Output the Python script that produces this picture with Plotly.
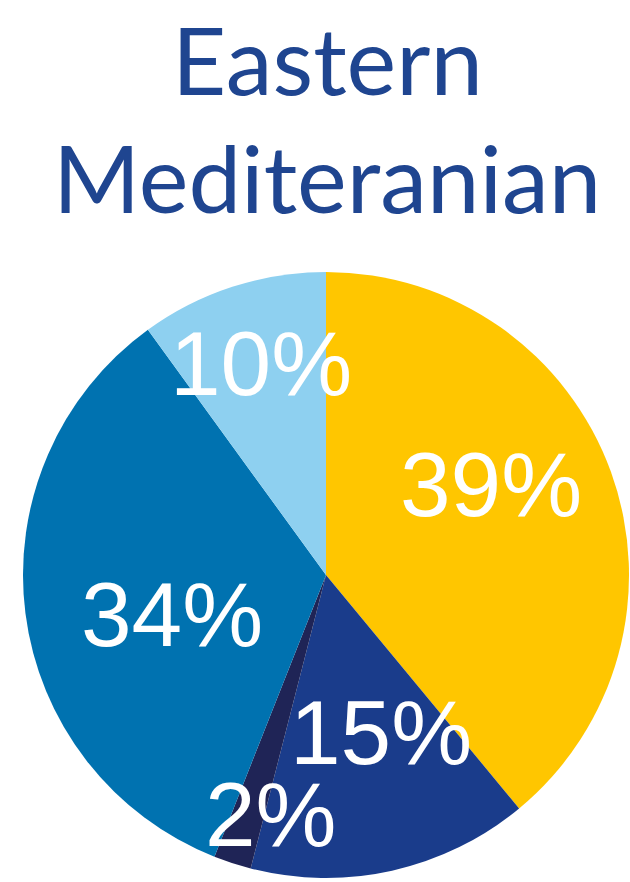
import math
import plotly.graph_objects as go

categories = ["A", "B", "C", "D", "E"]
values = [39, 15, 2, 34, 10]
colors = ["#FFC600", "#1A3C8B", "#1F2456", "#0072B0", "#8ED0F0"]
title_lines = ["Eastern", "Mediteranian"]

# style: placement of each percentage label relative to its slice
label_r = [0.62, 0.55, 0.81, 0.525, 0.73]      # fraction of radius
label_dtheta = [-9, -6.5, -5, -7, 1]           # degrees from slice middle

W, H = 630, 882
cx, cy, R = 326, 575, 303

fig = go.Figure(go.Pie(
    labels=categories,
    values=values,
    sort=False,
    direction="clockwise",
    rotation=0,
    marker=dict(colors=colors, line=dict(width=0)),
    textinfo="none",
    showlegend=False,
    hoverinfo="label+percent",
    domain=dict(x=[(cx - R) / W, (cx + R) / W], y=[(H - (cy + R)) / H, (H - (cy - R)) / H]),
))

total = sum(values)
cum = 0
annotations = []
for v, rf, dt in zip(values, label_r, label_dtheta):
    mid = (cum + v / 2) / total * 2 * math.pi + math.radians(dt)
    cum += v
    px = cx + rf * R * math.sin(mid)
    py = cy - rf * R * math.cos(mid)
    annotations.append(dict(
        x=px / W, y=1 - py / H, xref="paper", yref="paper",
        text=f"{round(v / total * 100)}%", showarrow=False,
        xanchor="center", yanchor="middle",
        font=dict(family="Liberation Sans, Arial", size=91, color="white"),
    ))

title_mid_y = [58, 176]
for line, ty in zip(title_lines, title_mid_y):
    annotations.append(dict(
        x=327 / W, y=1 - ty / H, xref="paper", yref="paper",
        text=line, showarrow=False, xanchor="center", yanchor="middle",
        font=dict(family="Lato, Open Sans, sans-serif", size=94, color="#1F4590"),
    ))

fig.update_layout(
    width=W, height=H,
    margin=dict(l=0, r=0, t=0, b=0),
    paper_bgcolor="white",
    plot_bgcolor="white",
    annotations=annotations,
)

fig.write_html("out.html", config={"displayModeBar": False},
               post_script="document.body.style.margin='0';")
